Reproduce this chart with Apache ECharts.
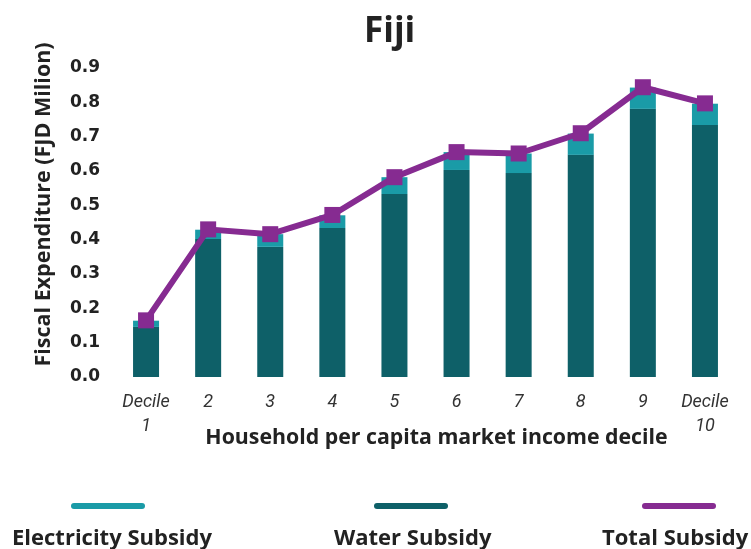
<!DOCTYPE html>
<html>
<head>
<meta charset="utf-8">
<title>Fiji</title>
<script src="https://cdn.jsdelivr.net/npm/echarts@6/dist/echarts.min.js"></script>
<style>
  html, body { margin: 0; padding: 0; background: #fff; }
  #chart { width: 751px; height: 549px; }
</style>
</head>
<body>
<div id="chart"></div>
<script>
// Income deciles on the x axis
const deciles = ['Decile\n1', '2', '3', '4', '5', '6', '7', '8', '9', 'Decile\n10'];

// Fiscal expenditure by decile, FJD million
const waterSubsidy = [0.146, 0.402, 0.379, 0.434, 0.533, 0.603, 0.594, 0.647, 0.781, 0.734];
const electricitySubsidy = [0.018, 0.027, 0.037, 0.037, 0.049, 0.052, 0.057, 0.062, 0.062, 0.062];
const totalSubsidy = [0.165, 0.430, 0.416, 0.472, 0.582, 0.655, 0.651, 0.710, 0.844, 0.797];

// Y axis ticks
const yMin = 0, yMax = 0.9, yStep = 0.1;

const colors = {
  electricity: '#1a9ba7',
  water: '#0e6068',
  total: '#862b91',
  text: '#222222'
};

const boldFont = 'Open Sans';
const lineIcon = 'path://M3,0 H71 A3,3 0 0 1 71,6 H3 A3,3 0 0 1 3,0 Z';

function legendAt(name, x) {
  return {
    data: [name],
    left: x,
    top: 503,
    padding: 0,
    icon: lineIcon,
    itemWidth: 74,
    itemHeight: 6,
    formatter: () => '',
    textStyle: { fontSize: 6, lineHeight: 6 },
    selectedMode: false
  };
}

function legendText(name, x) {
  return {
    type: 'text',
    left: x,
    top: 528,
    style: {
      text: name,
      fill: colors.text,
      font: 'bold 22px "' + boldFont + '"'
    }
  };
}

const chart = echarts.init(document.getElementById('chart'));
chart.setOption({
  animation: false,
  title: {
    text: 'Fiji',
    left: 359,
    top: 10,
    textStyle: { fontFamily: boldFont, fontWeight: 'bold', fontSize: 35, color: colors.text }
  },
  grid: { left: 115, right: 15, top: 68, bottom: 172, containLabel: false },
  legend: [
    legendAt('Electricity Subsidy', 71),
    legendAt('Water Subsidy', 374),
    legendAt('Total Subsidy', 642)
  ],
  graphic: [
    legendText('Electricity Subsidy', 12),
    legendText('Water Subsidy', 334),
    legendText('Total Subsidy', 602)
  ],
  xAxis: {
    type: 'category',
    data: deciles,
    axisLine: { show: false },
    axisTick: { show: false },
    axisLabel: {
      margin: 13,
      interval: 0,
      fontFamily: 'Roboto',
      fontStyle: 'italic',
      fontSize: 18,
      lineHeight: 24,
      color: '#333333'
    },
    name: 'Household per capita market income decile',
    nameLocation: 'middle',
    nameGap: 50,
    nameMoveOverlap: false,
    nameTextStyle: {
      fontFamily: boldFont,
      fontWeight: 'bold',
      fontSize: 21.3,
      color: colors.text,
      padding: [0, 0, 0, 22]
    }
  },
  yAxis: {
    type: 'value',
    min: yMin,
    max: yMax,
    interval: yStep,
    splitLine: { show: false },
    axisLine: { show: false },
    axisTick: { show: false },
    axisLabel: {
      margin: 15,
      formatter: v => v.toFixed(1),
      fontFamily: 'DejaVu Sans',
      fontWeight: 'bold',
      fontSize: 17,
      color: colors.text
    },
    name: 'Fiscal Expenditure (FJD Milion)',
    nameLocation: 'middle',
    nameGap: 60,
    nameTextStyle: {
      fontFamily: boldFont,
      fontWeight: 'bold',
      fontSize: 21.5,
      color: colors.text,
      padding: [0, 0, 0, 36]
    }
  },
  series: [
    {
      name: 'Water Subsidy',
      type: 'bar',
      stack: 'subsidy',
      barWidth: 26,
      data: waterSubsidy,
      itemStyle: { color: colors.water }
    },
    {
      name: 'Electricity Subsidy',
      type: 'bar',
      stack: 'subsidy',
      barWidth: 26,
      data: electricitySubsidy,
      itemStyle: { color: colors.electricity }
    },
    {
      name: 'Total Subsidy',
      type: 'line',
      data: totalSubsidy,
      symbol: 'rect',
      symbolSize: 16,
      z: 5,
      lineStyle: { color: colors.total, width: 6 },
      itemStyle: { color: colors.total }
    }
  ]
});
</script>
</body>
</html>
